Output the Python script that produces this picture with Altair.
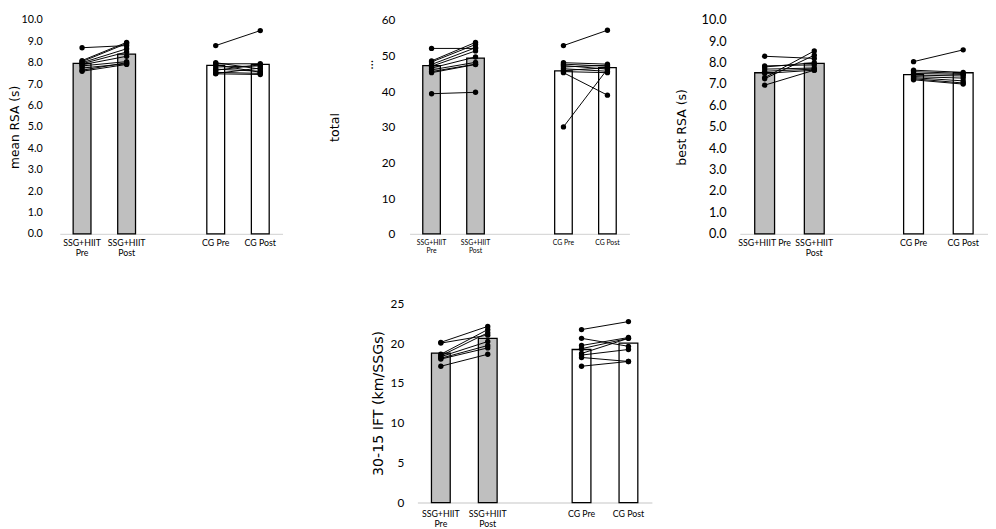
import altair as alt
import pandas as pd

FONT = "Lato"
TITLE_FONT = "DejaVu Sans"

CATS_A = ["SSG+HIIT\nPre", "SSG+HIIT\nPost", "CG Pre", "CG Post"]
CATS_B = ["SSG+HIIT Pre", "SSG+HIIT\nPost", "CG Pre", "CG Post"]
GROUPS = ["SSG", "SSG", "CG", "CG"]

# Panel 1: mean RSA (s)
p1_means = [7.97, 8.40, 7.88, 7.92]
p1_ssg_pre = [8.70, 8.10, 8.05, 8.00, 7.95, 7.90, 7.85, 7.75, 7.65, 7.60]
p1_ssg_post = [8.80, 8.95, 8.90, 8.65, 8.50, 8.30, 8.05, 7.95, 8.00, 7.92]
p1_cg_pre = [8.80, 8.00, 7.95, 7.90, 7.80, 7.70, 7.65, 7.55, 7.50, 7.48]
p1_cg_post = [9.50, 7.70, 7.95, 7.55, 7.85, 7.60, 7.90, 7.50, 7.75, 7.45]

# Panel 2: total
p2_means = [47.2, 49.3, 45.7, 46.6]
p2_ssg_pre = [52.0, 48.5, 48.2, 47.5, 47.0, 46.5, 46.0, 45.5, 45.2, 39.3]
p2_ssg_post = [52.0, 53.7, 53.1, 52.2, 51.3, 49.6, 48.1, 47.6, 47.5, 39.7]
p2_cg_pre = [52.8, 48.0, 47.6, 47.2, 46.8, 46.3, 45.8, 45.5, 45.2, 30.0]
p2_cg_post = [57.1, 47.6, 47.0, 46.2, 47.3, 45.6, 46.6, 45.2, 38.9, 46.2]

# Panel 3: best RSA (s)
p3_means = [7.53, 7.97, 7.44, 7.53]
p3_ssg_pre = [8.30, 7.85, 7.80, 7.70, 7.60, 7.50, 7.30, 7.25, 6.95]
p3_ssg_post = [8.20, 7.90, 8.00, 7.75, 7.70, 7.65, 8.55, 8.35, 7.65]
p3_cg_pre = [8.05, 7.65, 7.58, 7.50, 7.42, 7.35, 7.30, 7.25, 7.20]
p3_cg_post = [8.60, 7.55, 7.50, 7.45, 7.38, 7.28, 7.15, 7.05, 7.00]

# Panel 4: 30-15 IFT (km/SSGs)
p4_means = [18.75, 20.6, 19.2, 20.0]
p4_ssg_pre = [20.1, 20.0, 18.6, 18.4, 18.3, 18.1, 18.0, 17.1]
p4_ssg_post = [22.1, 21.0, 21.7, 21.3, 20.2, 19.7, 19.4, 18.6]
p4_cg_pre = [21.7, 20.6, 19.7, 19.3, 18.7, 18.5, 18.2, 17.1]
p4_cg_post = [22.7, 19.6, 20.7, 20.6, 20.6, 19.2, 17.7, 17.7]

Y_TICKS_RSA = [0, 1, 2, 3, 4, 5, 6, 7, 8, 9, 10]
Y_TICKS_TOTAL = [0, 10, 20, 30, 40, 50, 60]
Y_TICKS_IFT = [0, 5, 10, 15, 20, 25]


def panel(cats, means, ssg_pre, ssg_post, cg_pre, cg_post, ytitle, yticks, yfmt,
          width, height, xlabel_size, xlabel_pad, ylabel_size, ylabel_pad,
          title_size, title_pad, extra=None):
    bars = pd.DataFrame({"cat": cats, "value": means, "grp": GROUPS})
    rows = []
    for i, (a, b) in enumerate(zip(ssg_pre, ssg_post)):
        rows.append({"sid": f"s{i}", "cat": cats[0], "value": a})
        rows.append({"sid": f"s{i}", "cat": cats[1], "value": b})
    for i, (a, b) in enumerate(zip(cg_pre, cg_post)):
        rows.append({"sid": f"c{i}", "cat": cats[2], "value": a})
        rows.append({"sid": f"c{i}", "cat": cats[3], "value": b})
    pts = pd.DataFrame(rows)
    domain = [cats[0], cats[1], "gap", cats[2], cats[3]]
    x = alt.X("cat:N",
              scale=alt.Scale(domain=domain, paddingInner=0, paddingOuter=0),
              axis=alt.Axis(title=None, labelAngle=0, ticks=False,
                            domainColor="#d9d9d9", domainWidth=1.5,
                            labelExpr="datum.label == 'gap' ? '' : split(datum.label, '\\n')",
                            labelFontSize=xlabel_size, labelLineHeight=xlabel_size + 1.5,
                            labelPadding=xlabel_pad, labelColor="black", labelOverlap=False,
                            labelFont=FONT))
    y = alt.Y("value:Q",
              scale=alt.Scale(domain=[yticks[0], yticks[-1]], nice=False),
              axis=alt.Axis(values=yticks, format=yfmt, grid=False, domain=False,
                            ticks=False, labelPadding=ylabel_pad, labelFontSize=ylabel_size,
                            labelColor="black", labelFont=FONT,
                            title=ytitle, titleFontSize=title_size, titleFontWeight="normal",
                            titleColor="black", titleFont=TITLE_FONT, titlePadding=title_pad))
    b = alt.Chart(bars).mark_bar(width={"band": 0.4}, stroke="black", strokeWidth=1.3).encode(
        x=x, y=y,
        fill=alt.Fill("grp:N", scale=alt.Scale(domain=["SSG", "CG"], range=["#bfbfbf", "#ffffff"]),
                      legend=None))
    ln = alt.Chart(pts).mark_line(color="black", strokeWidth=1).encode(
        x=x, y=y, detail="sid:N")
    pt = alt.Chart(pts).mark_circle(color="black", size=30, opacity=1).encode(x=x, y=y)
    layers = [b, ln, pt]
    if extra is not None:
        layers.append(extra)
    return alt.layer(*layers).properties(width=width, height=height)


dots = alt.Chart(pd.DataFrame({"t": ["\u2026"]})).mark_text(
    angle=270, fontSize=13, color="black", font=FONT).encode(
    text="t:N", x=alt.value(-41), y=alt.value(46))

c1 = panel(CATS_A, p1_means, p1_ssg_pre, p1_ssg_post, p1_cg_pre, p1_cg_post,
           "mean RSA (s)", Y_TICKS_RSA, ".1f", 228, 219, 9, 5, 11, 18, 12.5, 0)
c2 = panel(CATS_A, p2_means, p2_ssg_pre, p2_ssg_post, p2_cg_pre, p2_cg_post,
           "total", Y_TICKS_TOTAL, "d", 225, 219, 7, 5, 12, 15, 13, 41, extra=dots)
c3 = panel(CATS_B, p3_means, p3_ssg_pre, p3_ssg_post, p3_cg_pre, p3_cg_post,
           "best RSA (s)", Y_TICKS_RSA, ".1f", 254, 219, 9, 5, 13, 14, 12.8, 13)
c4 = panel(CATS_A, p4_means, p4_ssg_pre, p4_ssg_post, p4_cg_pre, p4_cg_post,
           "30-15 IFT (km/SSGs)", Y_TICKS_IFT, "d", 240, 204, 9, 7, 12, 14, 14.5, 5)

spacer = alt.Chart(pd.DataFrame({"a": [0]})).mark_point(opacity=0).encode(
    x=alt.X("a:Q", axis=None), y=alt.Y("a:Q", axis=None)).properties(width=318, height=10)

top = alt.hconcat(c1, c2, c3, spacing=47)
bottom = alt.hconcat(spacer, c4, spacing=0)
chart = alt.vconcat(top, bottom, spacing=40).properties(
    padding={"left": 0, "top": 0, "right": 0, "bottom": 0}
).configure(font=FONT, view=alt.ViewConfig(stroke=None))

chart.save("out.html", embed_options={"renderer": "svg", "actions": False})
